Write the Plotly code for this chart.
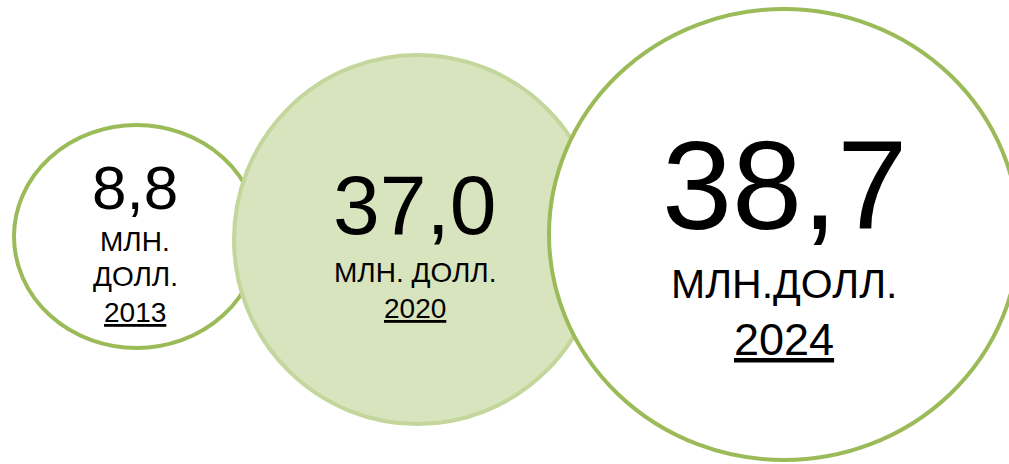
import plotly.graph_objects as go

# ---- data ----
years = ["2013", "2020", "2024"]
values = ["8,8", "37,0", "38,7"]
units = [["МЛН.", "ДОЛЛ."], ["МЛН. ДОЛЛ."], ["МЛН.ДОЛЛ."]]

# ---- layout (design positions in pixel coordinates) ----
W, H = 1009, 464
circles = [  # cx, cy, rx, ry, fill, line colour
    dict(cx=136.5, cy=236.5, rx=122.5, ry=111.5, fill="white", line="#9BBB59"),
    dict(cx=417.5, cy=239.5, rx=183.5, ry=184.5, fill="#D7E4BD", line="#C3D69B"),
    dict(cx=784, cy=234.5, rx=235, ry=225.5, fill="white", line="#9BBB59"),
]
text_x = [135, 415, 784]
value_style = [(62, 187), (84, 205), (126, 185)]        # font size, y-middle
unit_style = [[(28, 241), (28, 276)], [(28, 272)], [(41, 284)]]
year_style = [(28, 312), (28, 308), (45, 339)]

FONT = "Liberation Sans, Arial, sans-serif"

fig = go.Figure()
shapes = []
for c in circles:
    shapes.append(dict(type="circle", xref="x", yref="y",
                       x0=c["cx"] - c["rx"], x1=c["cx"] + c["rx"],
                       y0=c["cy"] - c["ry"], y1=c["cy"] + c["ry"],
                       fillcolor=c["fill"], line=dict(color=c["line"], width=4),
                       layer="below"))

ann = []
def add(x, y, text, size):
    ann.append(dict(x=x, y=y, xref="x", yref="y", text=text, showarrow=False,
                    xanchor="center", yanchor="middle",
                    font=dict(family=FONT, size=size, color="black")))

for i in range(3):
    add(text_x[i], value_style[i][1], values[i], value_style[i][0])
    for u, (fs, yy) in zip(units[i], unit_style[i]):
        add(text_x[i], yy, u, fs)
    add(text_x[i], year_style[i][1], "<u>" + years[i] + "</u>", year_style[i][0])

fig.add_trace(go.Scatter(x=[0, W], y=[0, H], mode="markers",
                         marker=dict(opacity=0), hoverinfo="skip", showlegend=False))

fig.update_layout(width=W, height=H, margin=dict(l=0, r=0, t=0, b=0),
                  paper_bgcolor="white", plot_bgcolor="white",
                  shapes=shapes, annotations=ann, showlegend=False,
                  xaxis=dict(range=[0, W], visible=False, fixedrange=True),
                  yaxis=dict(range=[H, 0], visible=False, fixedrange=True))

fig.write_html("out.html", config={"displayModeBar": False},
               post_script="document.body.style.margin='0';document.body.style.overflow='hidden';")
